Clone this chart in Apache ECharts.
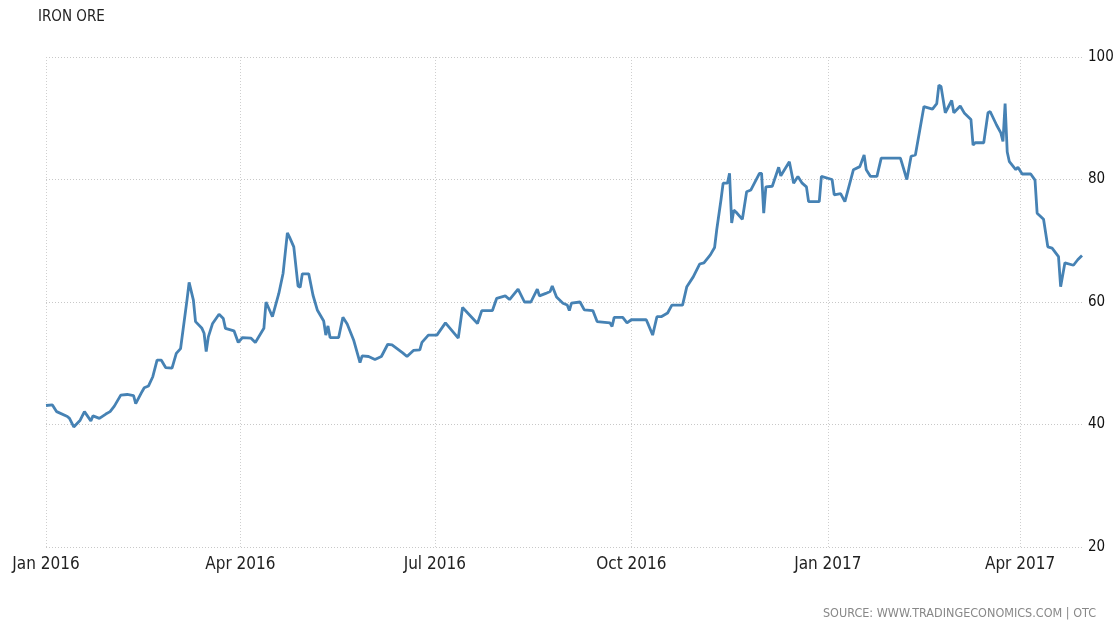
<!DOCTYPE html>
<html>
<head>
<meta charset="utf-8">
<script src="https://cdn.jsdelivr.net/npm/echarts@6/dist/echarts.min.js"></script>
<style>
html,body{margin:0;padding:0;background:#fff;}
#chart{width:1118px;height:624px;}
</style>
</head>
<body>
<div id="chart"></div>
<script>
const title = 'IRON ORE';
const source = 'SOURCE: WWW.TRADINGECONOMICS.COM | OTC';
const yTicks = [20, 40, 60, 80, 100];
const xTickLabels = ['Jan 2016', 'Apr 2016', 'Jul 2016', 'Oct 2016', 'Jan 2017', 'Apr 2017'];
const xTickDates = ['2016-01-01','2016-04-01','2016-07-01','2016-10-01','2017-01-01','2017-04-01'];

const dates = [
 '2016-01-01','2016-01-04','2016-01-06','2016-01-11','2016-01-12','2016-01-14','2016-01-17','2016-01-19','2016-01-22','2016-01-23',
 '2016-01-26','2016-01-29','2016-01-31','2016-02-02','2016-02-05','2016-02-08','2016-02-11','2016-02-12','2016-02-15','2016-02-16',
 '2016-02-18','2016-02-20','2016-02-22','2016-02-24','2016-02-26','2016-02-29','2016-03-02','2016-03-04','2016-03-07','2016-03-08',
 '2016-03-10','2016-03-11','2016-03-14','2016-03-15','2016-03-16','2016-03-17','2016-03-19','2016-03-22','2016-03-24','2016-03-25',
 '2016-03-29','2016-03-31','2016-04-02','2016-04-06','2016-04-08','2016-04-12','2016-04-13','2016-04-16','2016-04-19','2016-04-21',
 '2016-04-23','2016-04-24','2016-04-26','2016-04-28','2016-04-29','2016-04-30','2016-05-03','2016-05-05','2016-05-07','2016-05-10',
 '2016-05-11','2016-05-12','2016-05-13','2016-05-17','2016-05-19','2016-05-21','2016-05-24','2016-05-27','2016-05-28','2016-05-31',
 '2016-06-03','2016-06-06','2016-06-09','2016-06-11','2016-06-16','2016-06-18','2016-06-21','2016-06-24','2016-06-25','2016-06-28',
 '2016-07-02','2016-07-06','2016-07-12','2016-07-14','2016-07-21','2016-07-23','2016-07-28','2016-07-30','2016-08-03','2016-08-05',
 '2016-08-09','2016-08-12','2016-08-15','2016-08-18','2016-08-19','2016-08-22','2016-08-24','2016-08-25','2016-08-27','2016-08-30',
 '2016-09-01','2016-09-02','2016-09-03','2016-09-07','2016-09-09','2016-09-13','2016-09-15','2016-09-21','2016-09-22','2016-09-23',
 '2016-09-27','2016-09-29','2016-10-01','2016-10-08','2016-10-09','2016-10-11','2016-10-13','2016-10-15','2016-10-18','2016-10-20',
 '2016-10-25','2016-10-27','2016-10-30','2016-11-02','2016-11-04','2016-11-07','2016-11-09','2016-11-10','2016-11-12','2016-11-13',
 '2016-11-15','2016-11-16','2016-11-17','2016-11-18','2016-11-19','2016-11-22','2016-11-24','2016-11-26','2016-11-30','2016-12-01',
 '2016-12-02','2016-12-03','2016-12-06','2016-12-09','2016-12-10','2016-12-14','2016-12-16','2016-12-18','2016-12-20','2016-12-22',
 '2016-12-23','2016-12-28','2016-12-29','2017-01-03','2017-01-04','2017-01-07','2017-01-09','2017-01-13','2017-01-16','2017-01-18',
 '2017-01-19','2017-01-21','2017-01-24','2017-01-26','2017-02-04','2017-02-07','2017-02-09','2017-02-11','2017-02-15','2017-02-19',
 '2017-02-21','2017-02-22','2017-02-23','2017-02-25','2017-02-28','2017-03-01','2017-03-04','2017-03-06','2017-03-09','2017-03-10',
 '2017-03-11','2017-03-15','2017-03-17','2017-03-18','2017-03-21','2017-03-23','2017-03-24','2017-03-25','2017-03-26','2017-03-27',
 '2017-03-30','2017-03-31','2017-04-02','2017-04-06','2017-04-08','2017-04-09','2017-04-12','2017-04-14','2017-04-16','2017-04-19',
 '2017-04-20','2017-04-22','2017-04-26','2017-04-28','2017-04-30'
];
const prices = [
 43.1,43.2,42.1,41.3,41.0,39.6,40.7,42.1,40.6,41.4,
 41.0,41.7,42.1,43.0,44.8,44.9,44.7,43.4,45.4,46.0,
 46.3,47.8,50.5,50.5,49.3,49.2,51.6,52.4,60.3,63.2,
 60.3,56.8,55.7,54.9,51.9,54.3,56.5,58.0,57.3,55.7,
 55.3,53.4,54.2,54.1,53.4,55.7,60.0,57.6,61.4,64.7,
 71.3,70.6,69.0,62.6,62.4,64.6,64.6,61.1,58.7,56.9,
 54.6,56.1,54.2,54.2,57.5,56.4,53.8,50.1,51.2,51.1,
 50.6,51.1,53.1,53.0,51.7,51.1,52.1,52.2,53.4,54.6,
 54.6,56.6,54.1,59.1,56.5,58.6,58.6,60.6,61.0,60.4,
 62.1,60.0,60.0,62.1,61.0,61.4,61.7,62.6,60.8,59.8,
 59.5,58.6,59.8,60.0,58.7,58.6,56.8,56.6,56.0,57.5,
 57.5,56.6,57.1,57.1,56.3,54.6,57.6,57.6,58.2,59.5,
 59.5,62.5,64.1,66.2,66.4,67.7,68.9,71.8,76.7,79.4,
 79.4,81.0,72.9,75.0,74.7,73.5,78.0,78.3,81.0,81.0,
 74.5,78.8,78.9,82.0,80.6,82.9,79.4,80.5,79.4,78.8,
 76.4,76.4,80.5,80.0,77.5,77.7,76.4,81.6,82.1,84.0,
 81.6,80.5,80.5,83.5,83.5,80.0,83.8,84.0,91.9,91.5,
 92.4,95.4,95.2,90.9,92.9,90.9,92.0,90.8,89.8,85.6,
 86.0,86.0,90.9,91.1,88.9,87.6,86.2,92.4,84.5,82.9,
 81.6,82.0,80.9,80.9,79.9,74.5,73.5,69.0,68.8,67.4,
 62.5,66.4,66.0,66.9,67.6
];

const toTime = d => +new Date(d + 'T00:00:00');
const chart = echarts.init(document.getElementById('chart'));
const series = dates.map((d, i) => [toTime(d), prices[i]]);
const tickTimes = xTickDates.map(toTime);
const axisMin = toTime('2016-01-01');
const axisMax = toTime('2017-04-30');
const condensed = '"DejaVu Sans Condensed", "Liberation Sans Narrow", sans-serif';

chart.setOption({
  animation: false,
  backgroundColor: '#ffffff',
  title: {
    text: title, left: 33, top: 5,
    textStyle: { fontFamily: condensed, fontSize: 15, fontWeight: 'normal', color: '#222' }
  },
  graphic: [{
    type: 'text', right: 22, top: 607,
    style: { text: source, fill: '#888', font: '12.5px ' + condensed }
  }],
  grid: { left: 46, right: 36, top: 57, bottom: 77 },
  xAxis: {
    type: 'value', min: axisMin, max: axisMax,
    axisLine: { show: false },
    axisTick: { show: false, customValues: tickTimes },
    splitLine: { show: true, lineStyle: { color: '#cfcfcf', type: [1, 2], width: 1 } },
    axisLabel: {
      customValues: tickTimes,
      formatter: (v) => {
        const i = tickTimes.indexOf(v);
        return i >= 0 ? xTickLabels[i] : '';
      },
      color: '#222', fontSize: 17, margin: 9, fontFamily: condensed,
      showMinLabel: true, showMaxLabel: true
    }
  },
  yAxis: {
    type: 'value', position: 'right', min: yTicks[0], max: yTicks[yTicks.length-1], interval: 20,
    axisLine: { show: false }, axisTick: { show: false },
    splitLine: { show: true, lineStyle: { color: '#c8c8c8', type: [1, 2], width: 1 } },
    axisLabel: { color: '#111', fontSize: 15, margin: 6, fontFamily: condensed }
  },
  series: [{
    type: 'line', data: series, showSymbol: false, symbol: 'none',
    lineStyle: { color: '#4682b4', width: 2.8 }, itemStyle: { color: '#4682b4' }
  }]
});
</script>
</body>
</html>
